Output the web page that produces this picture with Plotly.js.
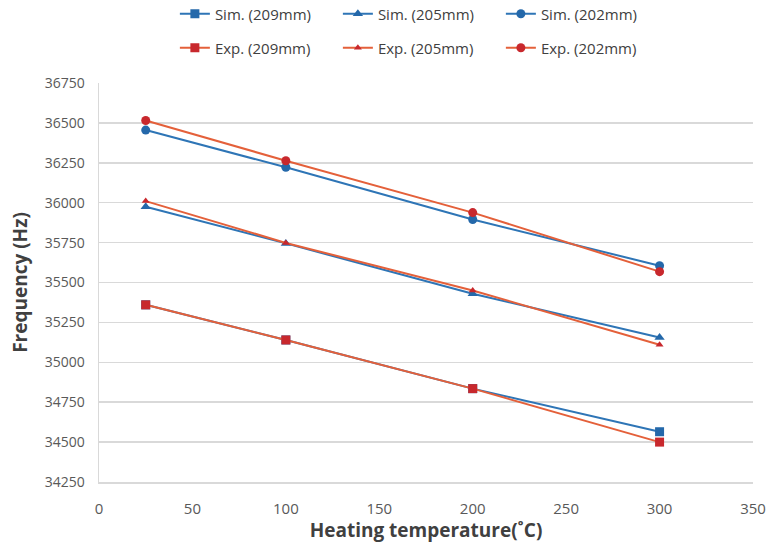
<!DOCTYPE html>
<html>
<head>
<meta charset="utf-8">
<script src="https://cdn.plot.ly/plotly-3.0.1.min.js"></script>
<style>html,body{margin:0;padding:0;background:#fff;}#chart{width:767px;height:550px;}</style>
</head>
<body>
<div id="chart"></div>
<script>
const temps = [25, 100, 200, 300];
const sim209 = [35360, 35140, 34835, 34565];
const sim205 = [35975, 35745, 35430, 35155];
const sim202 = [36455, 36222, 35895, 35605];
const exp209 = [35360, 35140, 34835, 34500];
const exp205 = [36010, 35748, 35450, 35110];
const exp202 = [36515, 36263, 35938, 35568];
const seriesNames = ['Sim. (209mm)', 'Sim. (205mm)', 'Sim. (202mm)', 'Exp. (209mm)', 'Exp. (205mm)', 'Exp. (202mm)'];
const xTicks = [0, 50, 100, 150, 200, 250, 300, 350];
const yTicks = [34250, 34500, 34750, 35000, 35250, 35500, 35750, 36000, 36250, 36500, 36750];

const simLine = '#2E75B6', simMarker = '#2468AA';
const expLine = '#E4603A', expMarker = '#C8282D';

function tr(y, name, isSim, symbol, msize, leg) {
  return {
    x: temps, y: y, name: name, type: 'scatter', mode: 'lines+markers',
    line: {color: isSim ? simLine : expLine, width: 2},
    marker: {color: isSim ? simMarker : expMarker, symbol: symbol, size: msize},
    legend: leg
  };
}
const data = [
  tr(sim209, seriesNames[0], true, 'square', 9, 'legend'),
  tr(sim205, seriesNames[1], true, 'triangle-up', 9, 'legend'),
  tr(sim202, seriesNames[2], true, 'circle', 9, 'legend'),
  tr(exp209, seriesNames[3], false, 'square', 9, 'legend2'),
  tr(exp205, seriesNames[4], false, 'triangle-up', 7, 'legend2'),
  tr(exp202, seriesNames[5], false, 'circle', 9, 'legend2')
];

const legFont = {family: 'Open Sans, Liberation Sans, sans-serif', size: 15, color: '#404040'};
const titleFont = {size: 19, color: '#404040', family: 'Open Sans, sans-serif', weight: 'bold'};
const layout = {
  width: 767, height: 550,
  margin: {l: 99, r: 14, t: 83, b: 68},
  paper_bgcolor: '#fff', plot_bgcolor: '#fff',
  font: {family: 'Open Sans, Liberation Sans, sans-serif', color: '#595959'},
  xaxis: {
    range: [0, 350], tickvals: xTicks, ticktext: xTicks.map(String),
    showgrid: false, zeroline: false, showline: true, linecolor: '#d9d9d9', linewidth: 1.5,
    ticks: '', ticklabelstandoff: 12, tickfont: {size: 15, color: '#595959'},
    title: {text: 'Heating temperature(˚C)', font: titleFont, standoff: 4}
  },
  yaxis: {
    range: [34250, 36750], tickvals: yTicks, ticktext: yTicks.map(String),
    showgrid: true, gridcolor: '#d9d9d9', gridwidth: 1.5, zeroline: false,
    showline: true, linecolor: '#d9d9d9', linewidth: 1.5,
    ticks: '', ticklabelstandoff: 10, tickfont: {size: 14, color: '#595959'},
    title: {text: 'Frequency (Hz)', font: titleFont, standoff: 12}
  },
  showlegend: true,
  legend: {orientation: 'h', xref: 'container', yref: 'container', x: 0.228, y: 0.9745, xanchor: 'left', yanchor: 'middle',
           entrywidth: 118, entrywidthmode: 'pixels', itemwidth: 30, font: legFont, bgcolor: 'rgba(0,0,0,0)'},
  legend2: {orientation: 'h', xref: 'container', yref: 'container', x: 0.228, y: 0.9127, xanchor: 'left', yanchor: 'middle',
           entrywidth: 118, entrywidthmode: 'pixels', itemwidth: 30, font: legFont, bgcolor: 'rgba(0,0,0,0)'}
};
Plotly.newPlot('chart', data, layout, {displayModeBar: false, staticPlot: true});
</script>
</body>
</html>
